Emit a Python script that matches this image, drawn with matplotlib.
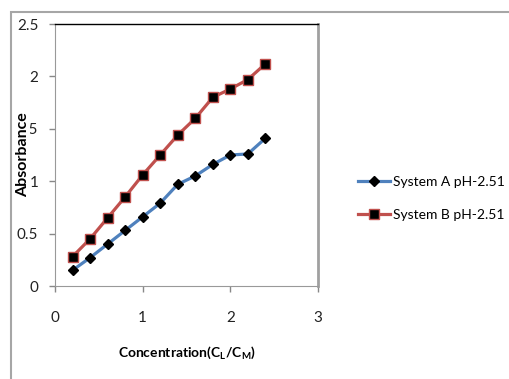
import numpy as np
import matplotlib.pyplot as plt
from matplotlib.patches import Rectangle

# data
conc = [0.2, 0.4, 0.6, 0.8, 1.0, 1.2, 1.4, 1.6, 1.8, 2.0, 2.2, 2.4]
abs_a = [0.15, 0.27, 0.40, 0.53, 0.66, 0.79, 0.97, 1.05, 1.16, 1.25, 1.26, 1.41]
abs_b = [0.28, 0.45, 0.65, 0.85, 1.06, 1.25, 1.44, 1.60, 1.80, 1.88, 1.97, 2.12]
label_a = 'System A pH-2.51'
label_b = 'System B pH-2.51'

plt.rcParams['font.family'] = ['Lato', 'DejaVu Sans']

fig = plt.figure(figsize=(5.1, 3.79), dpi=100)
ax = fig.add_axes([55/510, 1 - 286/379, (318 - 55)/510, (286 - 24)/379])

# outer chart frame, like the Excel chart area border
fig.patches.append(Rectangle((11/510, -0.05), 1.0, 1 - 12/379 + 0.05,
                             transform=fig.transFigure, fill=False,
                             edgecolor='#a6a6a6', linewidth=1.5))

ax.plot(conc, abs_a, color='#4f81bd', linewidth=2.3, marker='D', markersize=5.5,
        markerfacecolor='black', markeredgecolor='black', label=label_a)
ax.plot(conc, abs_b, color='#c0504d', linewidth=2.3, marker='s', markersize=7.5,
        markerfacecolor='black', markeredgecolor='#c0504d', markeredgewidth=1,
        label=label_b)

ax.set_xlim(0, 3)
ax.set_ylim(0, 2.5)
ax.set_xticks([0, 1, 2, 3])
ax.set_yticks([0, 0.5, 1, 1.5, 2, 2.5])
ax.set_yticklabels(['0', '0.5', '1', '1.5', '2', '2.5'])
ax.tick_params(axis='both', labelsize=11, colors='#888888', labelcolor='#222222', length=4, width=1)
ax.tick_params(axis='x', pad=14)
ax.tick_params(axis='y', pad=8)

for s in ['left', 'bottom']:
    ax.spines[s].set_color('#999999')
ax.spines['top'].set_color('black')
ax.spines['top'].set_linewidth(1)
ax.spines['right'].set_color('#a0a0a0')
ax.spines['right'].set_linewidth(2)

ax.set_xlabel('Concentration(C$_\\mathregular{L}$/C$_\\mathregular{M}$)', fontsize=10,
              fontweight='bold', labelpad=14)
ylab = ax.set_ylabel('Absorbance', fontsize=11.5, fontweight='bold', va='center')
ylab.set_bbox(dict(facecolor='white', edgecolor='none', pad=0))
ax.yaxis.set_label_coords(-32/263, 0.5)

ax.legend(loc='center left', bbox_to_anchor=(1.105, 0.335), frameon=False,
          fontsize=10, handlelength=2.3, handletextpad=0.2, labelspacing=1.5)

fig.savefig('out.png', dpi=100)
